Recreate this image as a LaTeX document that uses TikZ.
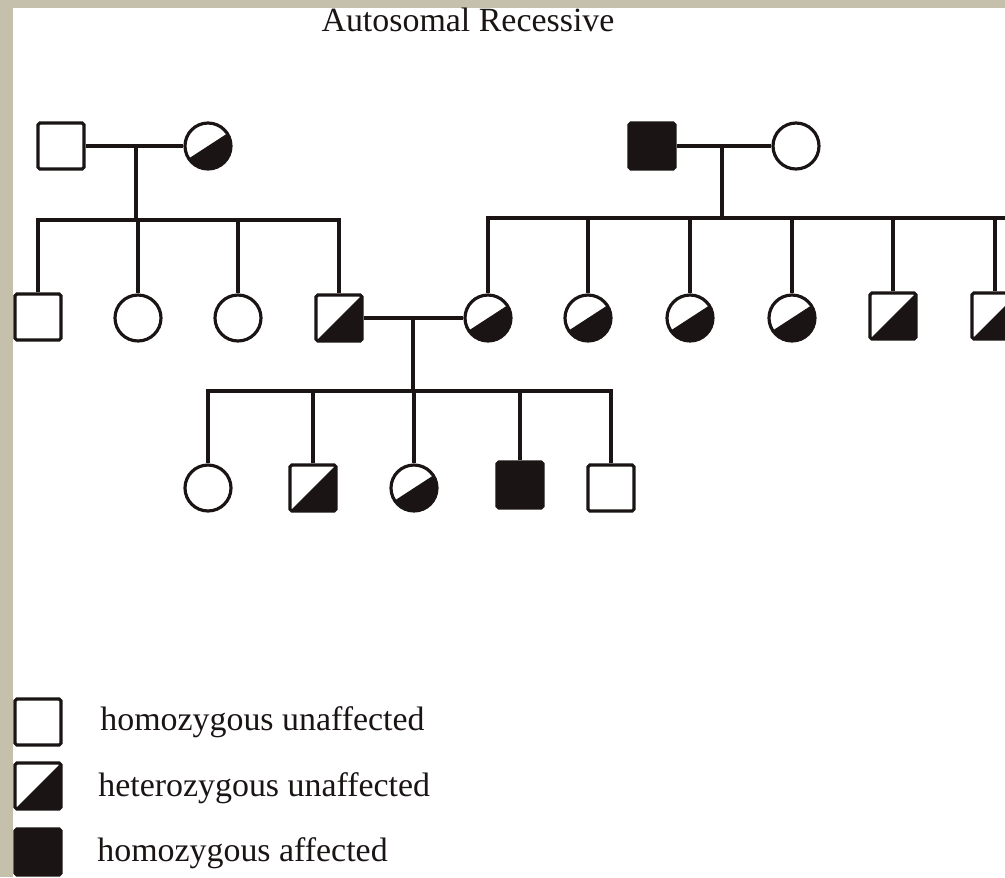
\documentclass[tikz,border=0pt]{standalone}
\usepackage{fontspec}
\setmainfont{Liberation Serif}
\usepackage{tikz}
\usetikzlibrary{positioning}

\definecolor{frame}{RGB}{196,192,172}
\definecolor{ink}{RGB}{26,20,20}

\tikzset{
  person/.style={draw=ink, line width=1.8pt, fill=white, inner sep=0pt},
  male/.style={person, rectangle, rounded corners=1pt, minimum size=0.92cm},
  female/.style={person, circle, minimum size=0.92cm},
  affmale/.style={male, fill=ink},
  hetmale/.style={male, path picture={
      \fill[ink] (path picture bounding box.south west) -- (path picture bounding box.south east)
        -- (path picture bounding box.north east) -- cycle;}},
  hetfemale/.style={female, path picture={
      \fill[ink] (path picture bounding box.center) ++(33:1cm) -- ++(-57:1cm) -- ++(213:2cm)
        -- ++(123:1cm) -- cycle;}},
  line/.style={draw=ink, line width=1.8pt},
  legtext/.style={anchor=west, text=ink, font=\fontsize{19.3}{23}\selectfont, inner sep=0pt}
}

\begin{document}
\begin{tikzpicture}[x=0.02cm, y=-0.02cm]
  \useasboundingbox (0,0) rectangle (1005,877);
  \fill[frame] (0,0) rectangle (1005,877);
  \fill[white] (13,8) rectangle (1005,877);

  \node[text=ink, font=\fontsize{19.3}{23}\selectfont] (title) at (468,20) {Autosomal Recessive};

  %% first generation
  \node[male] (f1) at (61,146) {};
  \node[hetfemale] (m1) at (208,146) {};
  \coordinate (u1) at (136,146);
  \coordinate (s1) at (136,220);
  \draw[line] (f1) -- (m1);
  \draw[line] (u1) -- (s1);

  \node[affmale] (f2) at (652,146) {};
  \node[female] (m2) at (796,146) {};
  \coordinate (u2) at (722,146);
  \coordinate (s2) at (722,218);
  \draw[line] (f2) -- (m2);
  \draw[line] (u2) -- (s2);

  %% second generation
  % left sibship
  \node[male] (a1) at (38,317) {};
  \node[female] (a2) at (138,318) {};
  \node[female] (a3) at (238,318) {};
  \node[hetmale] (a4) at (339,318) {};
  \draw[line] (a1.north) |- (s1) -| (a4.north);
  \draw[line] (a2.north) -- (a2.north |- s1);
  \draw[line] (a3.north) -- (a3.north |- s1);

  % right sibship
  \node[hetfemale] (b1) at (488,318) {};
  \node[hetfemale] (b2) at (588,318) {};
  \node[hetfemale] (b3) at (690,318) {};
  \node[hetfemale] (b4) at (792,318) {};
  \node[hetmale] (b5) at (893,316) {};
  \node[hetmale] (b6) at (995,316) {};
  \coordinate (e2) at (1005,218);
  \draw[line] (b1.north) |- (s2) -- (e2);
  \foreach \k in {2,...,6}
    \draw[line] (b\k.north) -- (b\k.north |- s2);

  % marriage
  \coordinate (u3) at (413,318);
  \coordinate (s3) at (413,391);
  \draw[line] (a4) -- (b1);
  \draw[line] (u3) -- (s3);

  %% third generation
  \node[female] (c1) at (208,488) {};
  \node[hetmale] (c2) at (313,488) {};
  \node[hetfemale] (c3) at (414,488) {};
  \node[affmale] (c4) at (520,485) {};
  \node[male] (c5) at (611,488) {};
  \draw[line] (c1.north) |- (s3) -| (c5.north);
  \foreach \k in {2,3,4}
    \draw[line] (c\k.north) -- (c\k.north |- s3);

  %% legend
  \node[male] (k1) at (38,722) {};
  \node[hetmale] (k2) at (38,786) {};
  \node[affmale] (k3) at (38,852) {};
  \node[legtext] (t1) at (100,722) {homozygous unaffected};
  \node[legtext] (t2) at (98,788) {heterozygous unaffected};
  \node[legtext] (t3) at (97,853) {homozygous affected};
\end{tikzpicture}
\end{document}
